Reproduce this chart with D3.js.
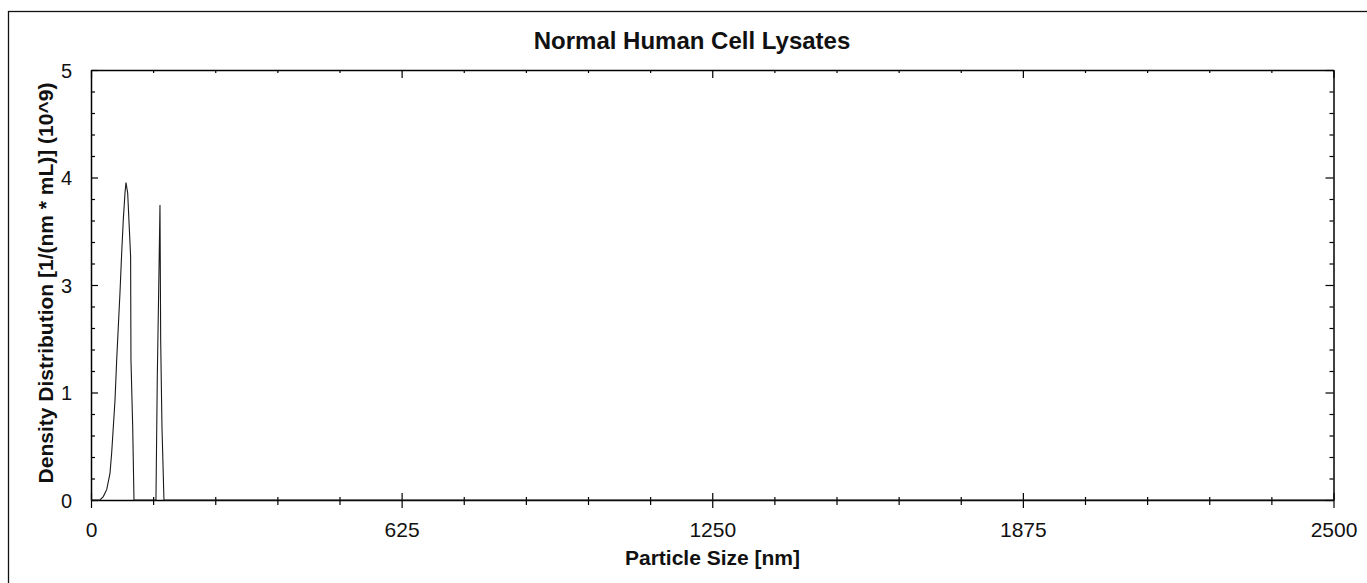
<!DOCTYPE html>
<html>
<head>
<meta charset="utf-8">
<script src="https://cdn.jsdelivr.net/npm/d3@7"></script>
<style>
  html, body { margin: 0; padding: 0; background: #fff; }
  svg { display: block; font-family: "Liberation Sans", Arial, sans-serif; }
</style>
</head>
<body>
<svg id="chart" width="1367" height="583"></svg>
<script>
// ---- data ----
const sizeNm = [0, 18, 24.7, 31.6, 38.2, 41.6, 48.3, 51.7, 54.9, 58.3, 61.7, 65.0, 68.4, 70.4, 73.8, 77.0, 79.7, 80.4, 83.9, 86.5,
                130.7, 133.4, 136.8, 138.8, 140.2, 142.8, 146.8, 2500];
const density = [0, 0, 0.04, 0.12, 0.31, 0.55, 1.16, 1.63, 2.01, 2.41, 2.87, 3.26, 3.57, 3.69, 3.57, 3.17, 2.83, 1.63, 0.85, 0,
                 0, 1.43, 2.67, 3.43, 1.86, 0.85, 0, 0];
const xMajorTicks = [0, 625, 1250, 1875, 2500];
const xMinorTicks = d3.range(0, 2501, 125).filter(v => v % 625 !== 0);
const yMajorTicks = [0, 1.25, 2.5, 3.75, 5];
const yTickLabels = ["0", "1", "3", "4", "5"];
const yMinorTicks = d3.range(0, 5.001, 0.25).filter(v => Math.abs(v / 1.25 - Math.round(v / 1.25)) > 1e-6);
const titleText = "Normal Human Cell Lysates";
const xTitle = "Particle Size [nm]";
const yTitle = "Density Distribution [1/(nm * mL)] (10^9)";

// ---- layout ----
const L = 91, R = 1333.5, T = 70, B = 500;
const svg = d3.select("#chart");
svg.append("rect").attr("width", 1367).attr("height", 583).attr("fill", "#fff");
svg.append("rect").attr("x", 8.5).attr("y", 11.5).attr("width", 1400).attr("height", 620)
  .attr("fill", "none").attr("stroke", "#111").attr("stroke-width", 1.3);

const x = d3.scaleLinear().domain([0, 2500]).range([L, R]);
const y = d3.scaleLinear().domain([0, 5]).range([B, T]);

function styleAxis(g) {
  g.select(".domain").attr("stroke", "#000").attr("stroke-width", 1.5);
  g.selectAll(".tick line").attr("stroke", "#000").attr("stroke-width", 1.2);
}

// bottom axis
const gB = svg.append("g").attr("transform", `translate(0,${B})`)
  .call(d3.axisBottom(x).tickValues(xMajorTicks).tickSize(8).tickSizeOuter(0).tickFormat(d3.format("d")));
styleAxis(gB);
gB.selectAll(".tick line").attr("y1", -7);
gB.selectAll(".tick text").attr("y", 36.5).attr("dy", 0).attr("font-size", 21)
  .attr("font-family", "Liberation Sans, Arial, sans-serif").attr("fill", "#111");
const gBm = svg.append("g").attr("transform", `translate(0,${B})`)
  .call(d3.axisBottom(x).tickValues(xMinorTicks).tickSize(5).tickFormat(""));
gBm.select(".domain").remove();
styleAxis(gBm);
gBm.selectAll(".tick line").attr("y1", -3);

// top axis (ticks inward)
const gT = svg.append("g").attr("transform", `translate(0,${T})`)
  .call(d3.axisBottom(x).tickValues(xMajorTicks).tickSize(8).tickSizeOuter(0).tickFormat(""));
styleAxis(gT);
const gTm = svg.append("g").attr("transform", `translate(0,${T})`)
  .call(d3.axisBottom(x).tickValues(xMinorTicks).tickSize(3).tickFormat(""));
gTm.select(".domain").remove();
styleAxis(gTm);

// left axis
const gL = svg.append("g").attr("transform", `translate(${L},0)`)
  .call(d3.axisLeft(y).tickValues(yMajorTicks).tickSize(7).tickSizeOuter(0)
    .tickFormat((d, i) => yTickLabels[i]));
styleAxis(gL);
gL.selectAll(".tick line").attr("x2", 7);
gL.selectAll(".tick text").attr("x", -19).attr("dy", "0.36em").attr("font-size", 20)
  .attr("font-family", "Liberation Sans, Arial, sans-serif").attr("fill", "#111");
const gLm = svg.append("g").attr("transform", `translate(${L},0)`)
  .call(d3.axisLeft(y).tickValues(yMinorTicks).tickSize(4).tickFormat(""));
gLm.select(".domain").remove();
styleAxis(gLm);
gLm.selectAll(".tick line").attr("x2", 4);

// right axis (ticks inward)
const gR = svg.append("g").attr("transform", `translate(${R},0)`)
  .call(d3.axisLeft(y).tickValues(yMajorTicks).tickSize(8).tickSizeOuter(0).tickFormat(""));
styleAxis(gR);
const gRm = svg.append("g").attr("transform", `translate(${R},0)`)
  .call(d3.axisLeft(y).tickValues(yMinorTicks).tickSize(4).tickFormat(""));
gRm.select(".domain").remove();
styleAxis(gRm);

// curve
const pts = sizeNm.map((s, i) => [s, density[i]]);
svg.append("path").datum(pts)
  .attr("fill", "none").attr("stroke", "#1a1a1a").attr("stroke-width", 1.1)
  .attr("d", d3.line().x(d => x(d[0])).y(d => y(d[1])));

// titles
svg.append("text").attr("x", 692).attr("y", 49).attr("text-anchor", "middle")
  .attr("font-size", 24).attr("font-weight", "bold").attr("fill", "#111").text(titleText);
svg.append("text").attr("x", 712.5).attr("y", 565).attr("text-anchor", "middle")
  .attr("font-size", 21).attr("font-weight", "bold").attr("fill", "#111").text(xTitle);
svg.append("text").attr("transform", "translate(53,283) rotate(-90)").attr("text-anchor", "middle")
  .attr("font-size", 21).attr("font-weight", "bold").attr("fill", "#111").text(yTitle);
</script>
</body>
</html>
